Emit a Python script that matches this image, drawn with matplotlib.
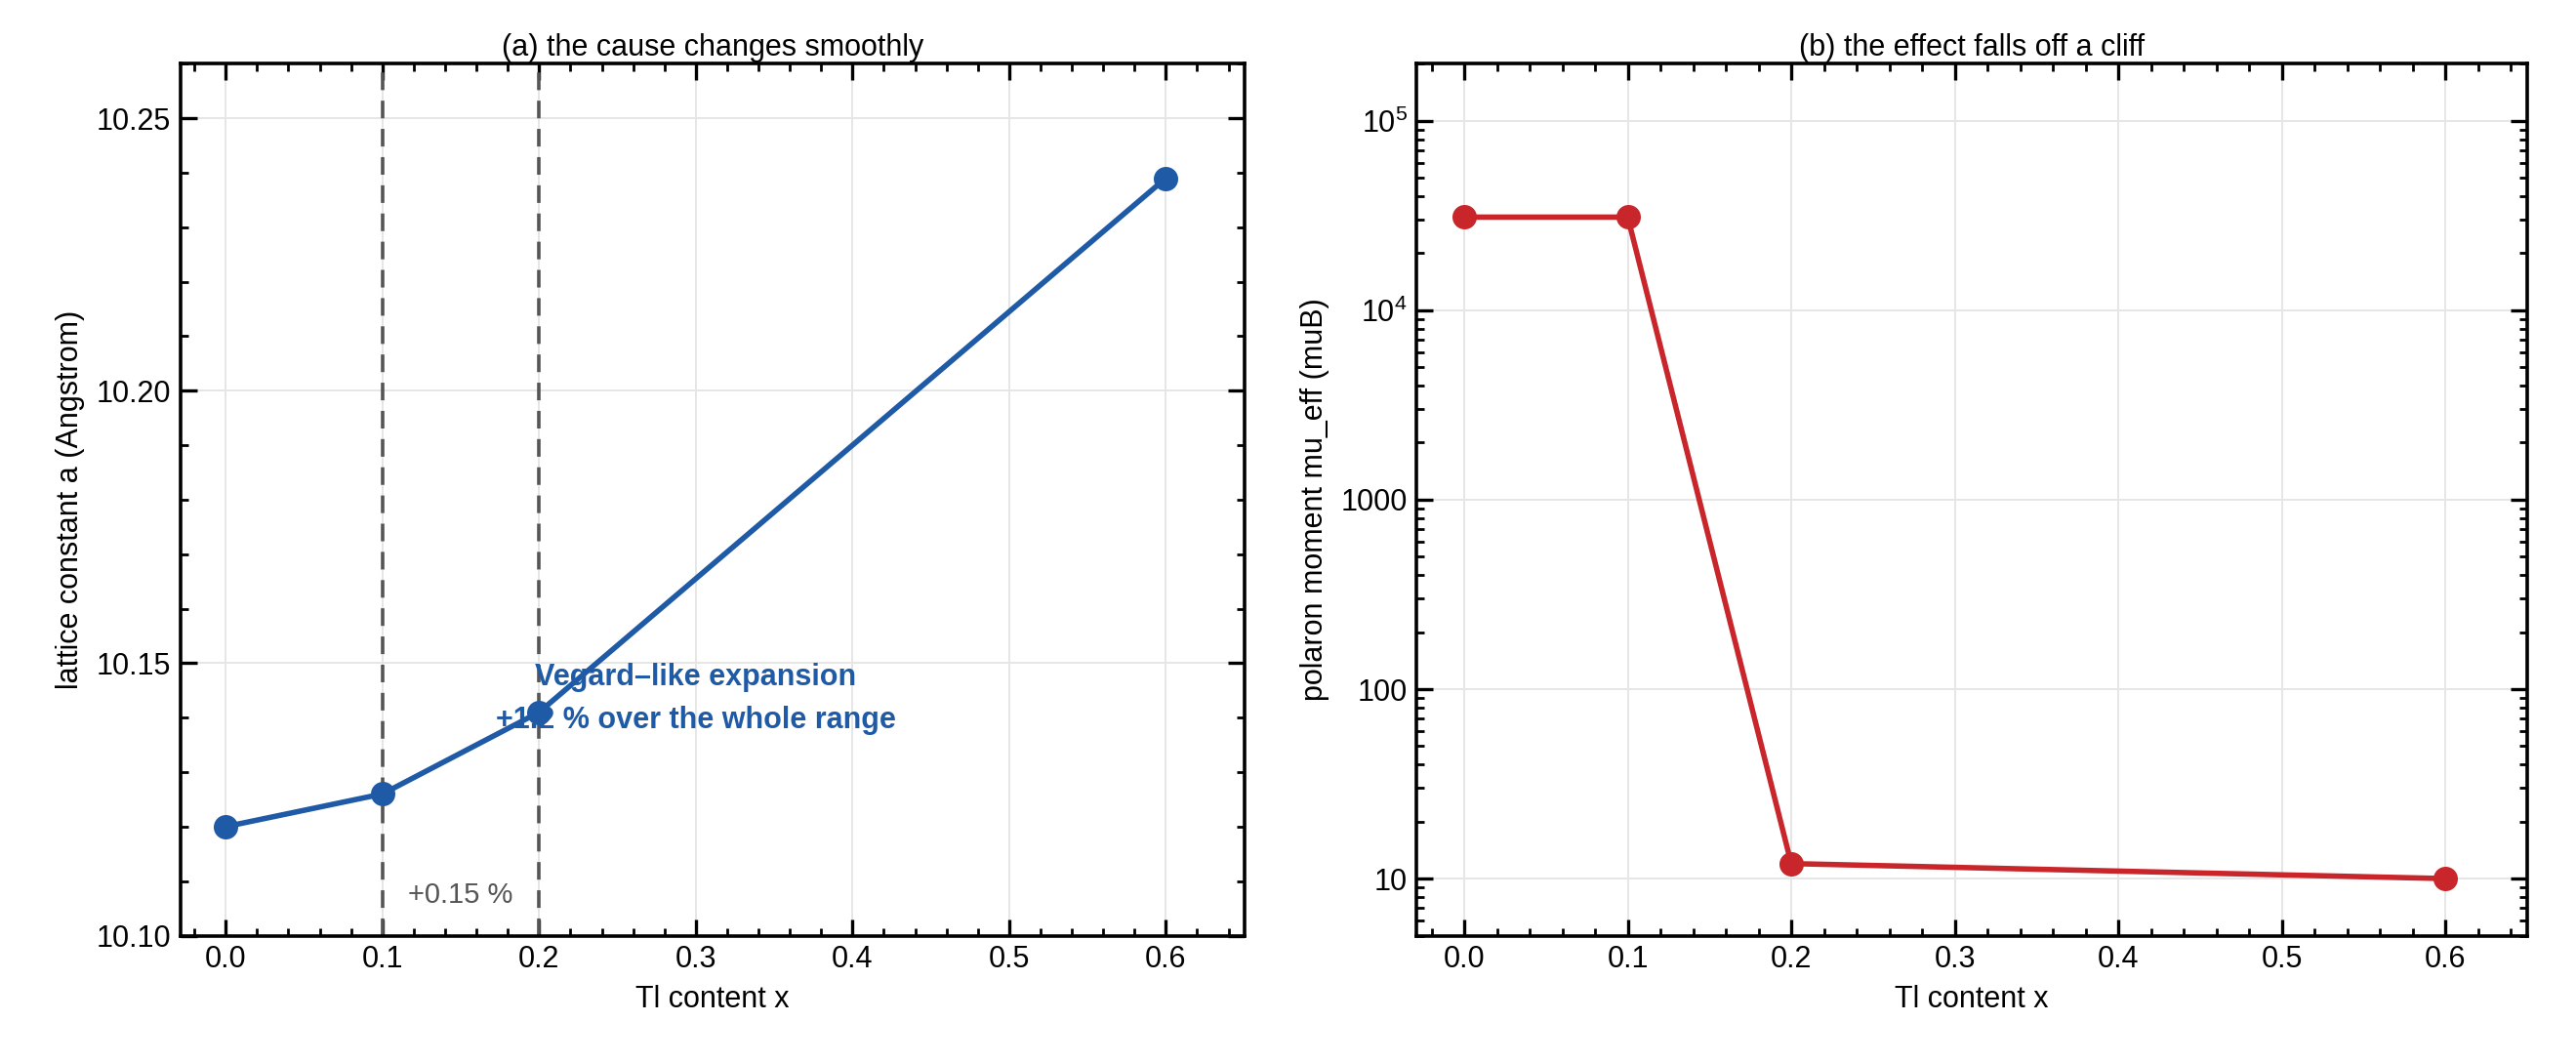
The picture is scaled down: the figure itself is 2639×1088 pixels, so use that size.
import matplotlib
matplotlib.use("Agg")
import matplotlib.pyplot as plt
from matplotlib.ticker import FuncFormatter, AutoMinorLocator, LogLocator

plt.rcParams['font.family'] = ['Liberation Sans', 'DejaVu Sans']
plt.rcParams['font.size'] = 11

x = [0.0, 0.1, 0.2, 0.6]
lattice = [10.120, 10.126, 10.141, 10.239]
moment = [31000, 31000, 12, 10]
blue = '#1f5aa6'
red = '#c8262b'

fig = plt.figure(figsize=(13.195, 5.44), dpi=200)
ax1 = fig.add_axes([0.070, 0.119, 0.413, 0.821])
ax2 = fig.add_axes([0.550, 0.119, 0.431, 0.821])

for ax in (ax1, ax2):
    ax.grid(True, color='#e6e6e6', linewidth=0.7)
    ax.set_axisbelow(True)
    ax.tick_params(which='both', direction='in', top=True, right=True, labelsize=11)
    ax.tick_params(which='major', length=6, width=1.2)
    ax.tick_params(which='minor', length=3, width=1)
    for s in ax.spines.values():
        s.set_linewidth(1.3)
    ax.set_xlim(-0.029, 0.65)
    ax.set_xticks([0, 0.1, 0.2, 0.3, 0.4, 0.5, 0.6])
    ax.xaxis.set_minor_locator(AutoMinorLocator(5))
    ax.set_xlabel('Tl content x', fontsize=11)

ax1.axvline(0.1, color='#555555', ls=(0, (5, 3)), lw=1.3, zorder=1)
ax1.axvline(0.2, color='#555555', ls=(0, (5, 3)), lw=1.3, zorder=1)
ax1.plot(x, lattice, '-o', color=blue, lw=2, ms=8, zorder=3)
ax1.set_ylim(10.10, 10.26)
ax1.set_yticks([10.10, 10.15, 10.20, 10.25])
ax1.yaxis.set_minor_locator(AutoMinorLocator(5))
ax1.set_ylabel('lattice constant a (Angstrom)')
ax1.set_title('(a) the cause changes smoothly', fontsize=11, pad=3)
ax1.text(0.15, 10.1075, '+0.15 %', color='#555555', ha='center', va='center', fontsize=10.5)
ax1.text(0.30, 10.1435, 'Vegard–like expansion\n+1.2 % over the whole range', color=blue,
         ha='center', va='center', fontsize=11, fontweight='bold', linespacing=1.6, zorder=4)

ax2.plot(x, moment, '-o', color=red, lw=2, ms=8, zorder=3)
ax2.set_yscale('log')
ax2.set_ylim(5, 2e5)
ax2.yaxis.set_major_locator(LogLocator(base=10, numticks=10))
ax2.yaxis.set_minor_locator(LogLocator(base=10, subs=range(2, 10), numticks=20))
def fmt(v, pos):
    if v >= 1e4:
        return r'$\mathregular{10^{%d}}$' % round(__import__('math').log10(v))
    return '%d' % v
ax2.yaxis.set_major_formatter(FuncFormatter(fmt))
ax2.set_ylabel('polaron moment mu_eff (muB)')
ax2.set_title('(b) the effect falls off a cliff', fontsize=11, pad=3)

fig.savefig('out.png', dpi=200)
